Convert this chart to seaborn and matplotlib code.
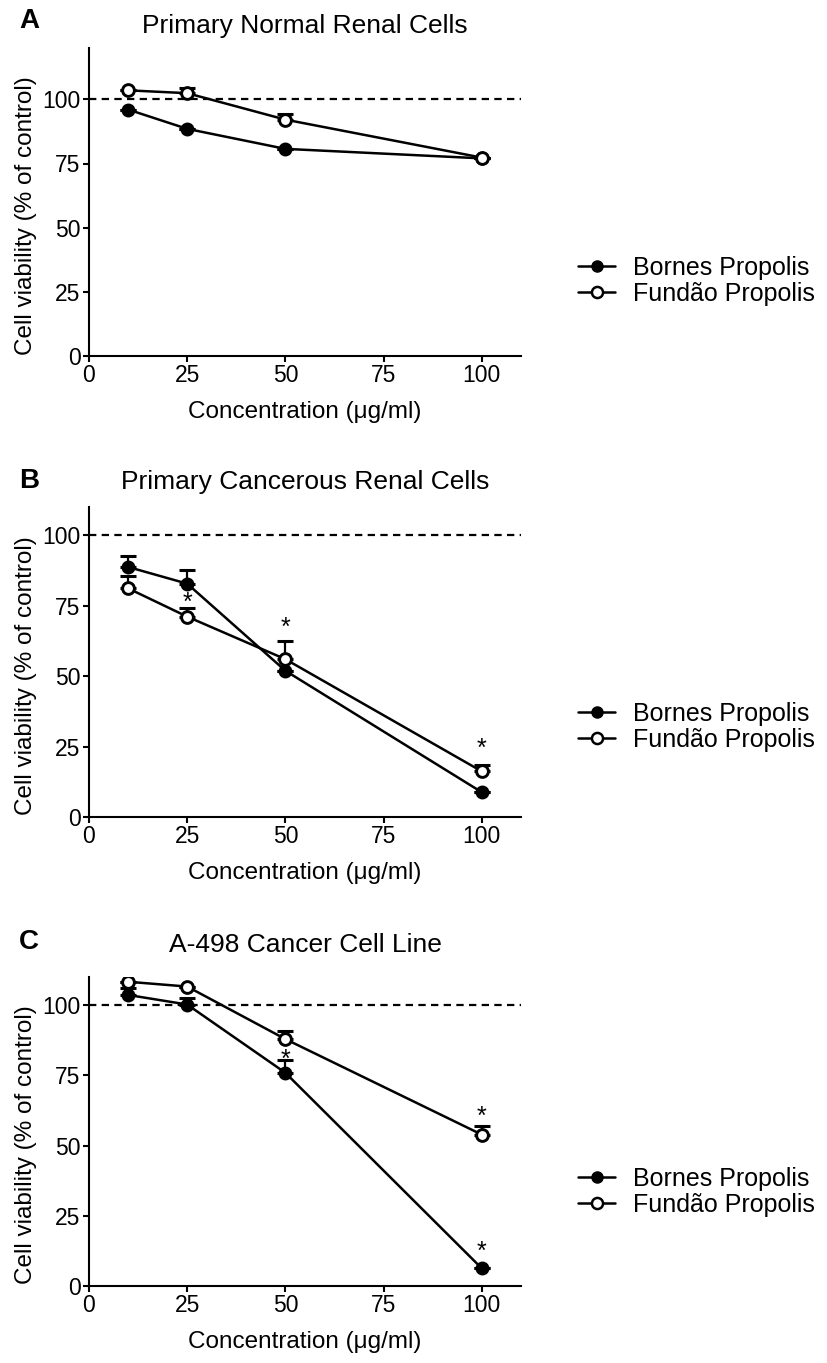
import matplotlib
matplotlib.use("Agg")
import matplotlib.pyplot as plt
from matplotlib.lines import Line2D
import seaborn as sns

# concentrations (ug/ml)
conc = [10, 25, 50, 100]

# panel A - primary normal renal cells
a_bornes = [96.0, 88.5, 80.7, 77.0]
a_bornes_err = [0, 0, 0, 0]
a_fundao = [103.5, 102.4, 92.1, 77.3]
a_fundao_err = [0, 2.0, 2.3, 0]
a_stars_x = []
a_stars_y = []

# panel B - primary cancerous renal cells
b_bornes = [88.7, 82.8, 51.9, 8.8]
b_bornes_err = [3.8, 5.0, 0, 0]
b_fundao = [81.1, 71.1, 56.0, 16.2]
b_fundao_err = [4.4, 3.0, 6.3, 2.4]
b_stars_x = [25, 50, 100]
b_stars_y = [77.8, 69.0, 26.2]

# panel C - A-498 cancer cell line
c_bornes = [103.6, 100.2, 75.9, 6.3]
c_bornes_err = [2.5, 2.4, 4.4, 0]
c_fundao = [108.3, 106.6, 87.9, 53.9]
c_fundao_err = [0, 0, 2.7, 3.0]
c_stars_x = [50, 100, 100]
c_stars_y = [82.5, 62.3, 14.0]

titles = ["Primary Normal Renal Cells", "Primary Cancerous Renal Cells", "A-498 Cancer Cell Line"]
letters = ["A", "B", "C"]
y_tops = [120, 110, 110]
series_labels = ["Bornes Propolis", "Fund\u00e3o Propolis"]

sns.set_style("ticks")
plt.rcParams["font.family"] = ["Liberation Sans", "DejaVu Sans"]
plt.rcParams["axes.linewidth"] = 1.5
plt.rcParams["text.color"] = "black"
plt.rcParams["axes.labelcolor"] = "black"

W, H = 828, 1363
fig = plt.figure(figsize=(W / 100, H / 100), dpi=100)

# axes boxes in pixels: (left, right, bottom, top)
boxes = [(89, 521, 356, 48), (89, 521, 817, 507), (89, 521, 1286, 977)]
title_pads = [11, 13, 18]
letter_y = [21, 481, 942]
legend_y = [281, 727, 1192]

panels = [
    (a_bornes, a_bornes_err, a_fundao, a_fundao_err, a_stars_x, a_stars_y),
    (b_bornes, b_bornes_err, b_fundao, b_fundao_err, b_stars_x, b_stars_y),
    (c_bornes, c_bornes_err, c_fundao, c_fundao_err, c_stars_x, c_stars_y),
]

for i, (bo, bo_err, fu, fu_err, sx, sy) in enumerate(panels):
    l, r, b, t = boxes[i]
    ax = fig.add_axes([l / W, 1 - b / H, (r - l) / W, (b - t) / H])

    ax.axhline(100, color="black", linestyle=(0, (3.3, 2.4)), linewidth=1.6, zorder=1)

    # upper-only error bars
    ax.errorbar(conc, bo, yerr=[[0] * 4, bo_err], fmt="none", ecolor="black",
                elinewidth=1.6, capsize=6, capthick=2.2, zorder=2)
    ax.errorbar(conc, fu, yerr=[[0] * 4, fu_err], fmt="none", ecolor="black",
                elinewidth=1.6, capsize=6, capthick=2.2, zorder=2)

    sns.lineplot(x=conc, y=bo, ax=ax, color="black", linewidth=1.8, marker="o",
                 markersize=8.5, markerfacecolor="black", markeredgecolor="black",
                 markeredgewidth=1.5, legend=False, zorder=3)
    sns.lineplot(x=conc, y=fu, ax=ax, color="black", linewidth=1.8, marker="o",
                 markersize=8.5, markerfacecolor="white", markeredgecolor="black",
                 markeredgewidth=2.1, legend=False, zorder=4)

    # significance stars, nudged so the glyph (not its text box) sits on the value
    for x, y in zip(sx, sy):
        ax.annotate("*", (x, y), xytext=(0, -4), textcoords="offset points",
                    ha="center", va="center", fontsize=18, color="black")

    ax.set_xlim(0, 110)
    ax.set_ylim(0, y_tops[i])
    ax.set_xticks([0, 25, 50, 75, 100])
    ax.set_yticks([0, 25, 50, 75, 100])
    ax.tick_params(labelsize=16.5, length=4, width=1.5, colors="black", pad=2)
    sns.despine(ax=ax)
    ax.spines["left"].set_color("black")
    ax.spines["bottom"].set_color("black")

    ax.set_xlabel("Concentration (\u03bcg/ml)", fontsize=17.5, labelpad=10)
    ax.set_ylabel("Cell viability (% of control)", fontsize=17.5)
    ax.yaxis.set_label_coords(-0.12, 0.457)
    ax.set_title(titles[i], fontsize=19, pad=title_pads[i])

    fig.text(29 / W, 1 - letter_y[i] / H, letters[i], fontsize=20, fontweight="bold",
             ha="center", va="center")

    handles = [
        Line2D([], [], color="black", linewidth=1.8, marker="o", markersize=8,
               markerfacecolor="black", markeredgecolor="black"),
        Line2D([], [], color="black", linewidth=1.8, marker="o", markersize=8,
               markerfacecolor="white", markeredgecolor="black", markeredgewidth=1.8),
    ]
    ax.legend(handles, series_labels, loc="center left",
              bbox_to_anchor=(556 / W, 1 - legend_y[i] / H),
              bbox_transform=fig.transFigure, frameon=False, fontsize=18,
              handlelength=1.45, handletextpad=0.75, labelspacing=0.08)

fig.savefig("out.png", dpi=100)
